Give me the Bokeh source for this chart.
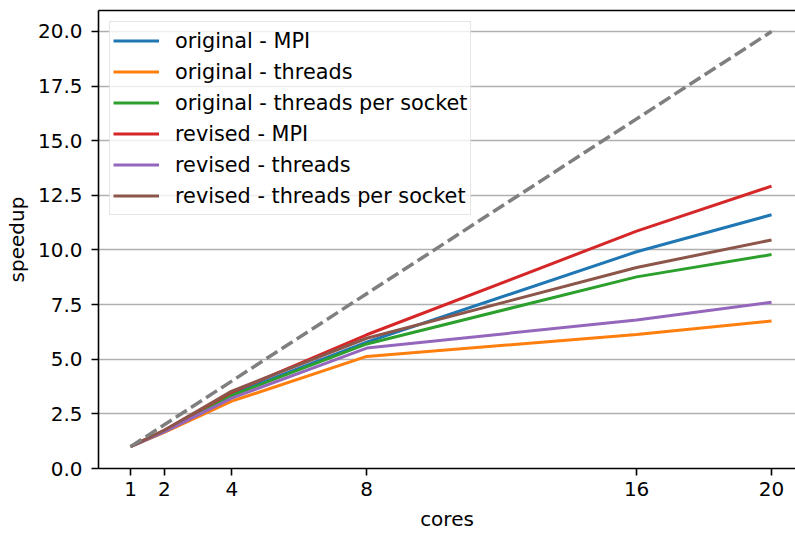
from bokeh.plotting import figure
from bokeh.models import Range1d, FixedTicker, LinearAxis, Legend, LegendItem, NumeralTickFormatter
from bokeh.embed import file_html
from bokeh.resources import INLINE

cores = [1, 2, 4, 8, 16, 20]
orig_mpi = [1.0, 1.72, 3.40, 5.78, 9.92, 11.61]
orig_threads = [1.0, 1.65, 3.08, 5.13, 6.13, 6.75]
orig_tps = [1.0, 1.70, 3.34, 5.70, 8.77, 9.79]
rev_mpi = [1.0, 1.75, 3.49, 6.12, 10.86, 12.92]
rev_threads = [1.0, 1.68, 3.22, 5.51, 6.80, 7.61]
rev_tps = [1.0, 1.75, 3.54, 5.96, 9.20, 10.46]
ideal = [1, 2, 4, 8, 16, 20]

series = [
    ("original - MPI", orig_mpi, "#1f77b4"),
    ("original - threads", orig_threads, "#ff7f0e"),
    ("original - threads per socket", orig_tps, "#2ca02c"),
    ("revised - MPI", rev_mpi, "#d62728"),
    ("revised - threads", rev_threads, "#9467bd"),
    ("revised - threads per socket", rev_tps, "#8c564b"),
]
x_ticks = [1, 2, 4, 8, 16, 20]
y_ticks = [0, 2.5, 5, 7.5, 10, 12.5, 15, 17.5, 20]

FONT = "DejaVu Sans"
FS = "20px"

p = figure(width=795, height=534, output_backend="svg", toolbar_location=None,
           x_range=Range1d(0.05, 20.71), y_range=Range1d(0, 20.96),
           min_border_left=98, min_border_right=0, min_border_top=10, min_border_bottom=66)
p.outline_line_color = None
p.background_fill_color = "white"
p.border_fill_color = "white"

p.xgrid.visible = False
p.ygrid.grid_line_color = "#b0b0b0"
p.ygrid.grid_line_width = 1.6
p.ygrid.ticker = FixedTicker(ticks=y_ticks)

p.xaxis.ticker = FixedTicker(ticks=x_ticks)
p.yaxis.ticker = FixedTicker(ticks=y_ticks)
p.yaxis.formatter = NumeralTickFormatter(format="0.0")
for ax in (p.xaxis[0], p.yaxis[0]):
    ax.axis_line_color = "black"
    ax.axis_line_width = 1.6
    ax.major_tick_line_color = "black"
    ax.major_tick_line_width = 1.6
    ax.major_tick_in = 0
    ax.major_tick_out = 7
    ax.minor_tick_line_color = None
    ax.major_label_text_font = FONT
    ax.major_label_text_font_size = FS
    ax.major_label_text_color = "black"
    ax.axis_label_text_font = FONT
    ax.axis_label_text_font_size = FS
    ax.axis_label_text_font_style = "normal"
    ax.axis_label_text_color = "black"
p.xaxis.axis_label = "cores"
p.yaxis.axis_label = "speedup"
p.xaxis.major_label_standoff = 6
p.xaxis.axis_label_standoff = 8
p.yaxis.major_label_standoff = 9
p.yaxis.axis_label_standoff = 6

top = LinearAxis(ticker=FixedTicker(ticks=[]), axis_line_color="black", axis_line_width=1.6,
                 major_tick_line_color=None, minor_tick_line_color=None,
                 major_label_text_font_size="0px")
p.add_layout(top, "above")

items = []
for name, vals, col in series:
    r = p.line(cores, vals, line_color=col, line_width=3)
    items.append(LegendItem(label=name, renderers=[r]))

p.line(cores, ideal, line_color="#7f7f7f", line_width=3.5, line_dash="13 5")

legend = Legend(items=items, location="top_left", margin=11, padding=3, spacing=0,
                label_height=31, glyph_height=31, glyph_width=46, label_standoff=16,
                label_text_font=FONT, label_text_font_size="20.8px", label_text_color="black",
                border_line_color="#cccccc", border_line_width=1.2,
                background_fill_color="white", background_fill_alpha=0.8)
p.add_layout(legend, "center")

open("out.html", "w").write(file_html(p, INLINE))
